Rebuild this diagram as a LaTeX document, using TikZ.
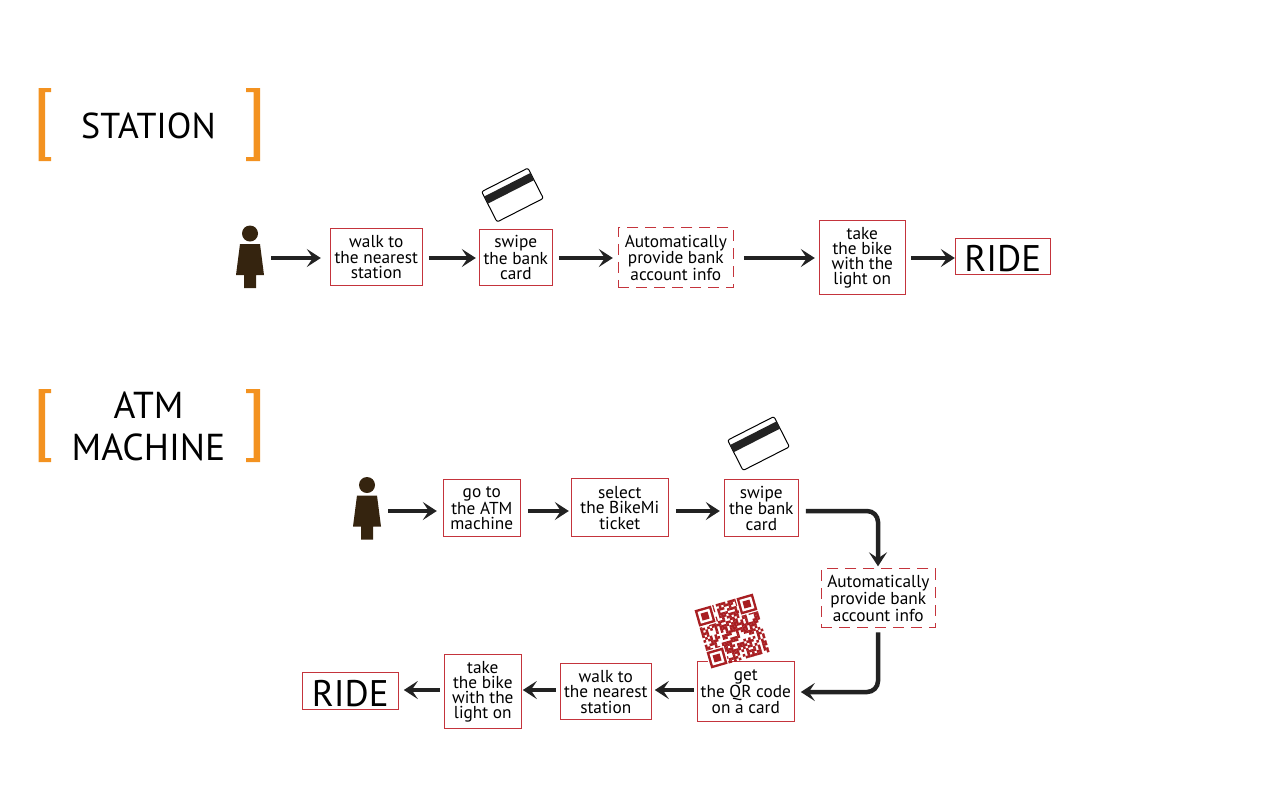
\documentclass[tikz,border=0pt]{standalone}
\usepackage{fontspec}
\setmainfont{PT Sans}
\usetikzlibrary{arrows.meta, positioning}
\definecolor{boxred}{HTML}{C4343C}
\definecolor{qrred}{HTML}{A81E22}
\definecolor{brorange}{HTML}{F39220}
\definecolor{darkline}{HTML}{222222}
\definecolor{figbrown}{HTML}{35240F}
\tikzset{
  stepbox/.style={draw=boxred, line width=1pt, inner sep=0pt, xshift=0.3pt, yshift=-0.3pt, align=center, font=\fontsize{17.3}{15.3}\selectfont},
  autobox/.style={stepbox, dashed, dash pattern=on 11pt off 7pt},
  ridebox/.style={draw=boxred, line width=1pt, inner sep=0pt, xshift=0.3pt, yshift=-0.3pt, text height=31pt, text depth=0pt, font=\fontsize{37}{37}\selectfont},
  titletext/.style={inner sep=0pt, align=center, font=\fontsize{36}{42}\selectfont},
  flow/.style={draw=darkline, line width=4.5pt, rounded corners=11pt, -{Stealth[length=14pt,width=18pt,inset=6pt]}},
  bracket/.style={fill=brorange},
  personfig/.pic={
    \fill[figbrown] (0,-24.5) circle (8);
    \fill[figbrown] (-10,-14) -- (10,-14) -- (14,17) -- (6,17) -- (6,30) -- (-6,30) -- (-6,17) -- (-14,17) -- cycle;
  },
  cardfig/.pic={
    \draw[line width=1pt, fill=white, rounded corners=2pt] (-26,-17) rectangle (26,17);
    \fill[darkline] (-26,-11.5) rectangle (26,-3.5);
  },
}
\begin{document}
\begin{tikzpicture}[x=1pt, y=-1pt]
  \useasboundingbox (0,0) rectangle (1281,801);
  % titles
  \foreach \yy in {0, 301} {
    \fill[bracket] (51,88+\yy) -- (38.5,88+\yy) -- (38.5,161+\yy) -- (51,161+\yy) -- (51,157+\yy) -- (45,157+\yy) -- (45,92+\yy) -- (51,92+\yy) -- cycle;
    \fill[bracket] (246,88+\yy) -- (260,88+\yy) -- (260,161+\yy) -- (246,161+\yy) -- (246,157+\yy) -- (253.5,157+\yy) -- (253.5,92+\yy) -- (246,92+\yy) -- cycle;
  }
  \node[titletext] (stationtitle) at (148.5,126) {STATION};
  \node[titletext, font=\fontsize{37.5}{42}\selectfont] (atmtitle) at (148.5,426) {ATM\\MACHINE};

  % station row
  \pic at (250,258) {personfig};
  \coordinate (persa) at (264,258);
  \node[stepbox, minimum width=92pt, minimum height=57pt] (walka) at (376,257) {walk to\\the nearest\\station};
  \node[stepbox, minimum width=73pt, minimum height=56pt] (swipea) at (515.5,257.5) {swipe\\the bank\\card};
  \node[autobox, minimum width=115pt, minimum height=60pt] (autoa) at (675.5,257.5) {Automatically\\provide bank\\account info};
  \node[stepbox, minimum width=86pt, minimum height=74pt] (takea) at (862,257.5) {take\\the bike\\with the\\light on};
  \node[ridebox, minimum width=95pt, minimum height=36pt] (ridea) at (1002.5,256) {RIDE};
  \pic[rotate=27] at (512.5,195) {cardfig};
  \draw[flow, shorten <=7pt, shorten >=9pt] (persa) -- (walka.west |- persa);
  \draw[flow, shorten <=6pt, shorten >=3pt] (walka.east |- persa) -- (swipea.west |- persa);
  \draw[flow, shorten <=6pt, shorten >=5pt] (swipea.east |- persa) -- (autoa.west |- persa);
  \draw[flow, shorten <=10pt, shorten >=4pt] (autoa.east |- persa) -- (takea.west |- persa);
  \draw[flow, shorten <=5pt, shorten >=0pt] (takea.east |- persa) -- (ridea.west |- persa);

  % atm rows
  \pic at (367,509.5) {personfig};
  \coordinate (persb) at (381,511);
  \node[stepbox, minimum width=77pt, minimum height=57pt] (gotob) at (481.5,508) {go to\\the ATM\\machine};
  \node[stepbox, minimum width=97pt, minimum height=58pt] (selectb) at (619.5,507.5) {select\\the BikeMi\\ticket};
  \node[stepbox, minimum width=74pt, minimum height=57pt] (swipeb) at (761,508) {swipe\\the bank\\card};
  \node[autobox, minimum width=114pt, minimum height=59pt] (autob) at (878,598) {Automatically\\provide bank\\account info};
  \node[stepbox, minimum width=97pt, minimum height=60pt] (getb) at (745.5,691.5) {get\\the QR code\\on a card};
  \node[stepbox, minimum width=91pt, minimum height=56pt] (walkb) at (605.5,691.5) {walk to\\the nearest\\station};
  \node[stepbox, minimum width=77pt, minimum height=74pt] (takeb) at (482.5,691.5) {take\\the bike\\with the\\light on};
  \node[ridebox, minimum width=96pt, minimum height=37pt] (rideb) at (350,690.5) {RIDE};
  \pic[rotate=27] at (758.5,443.5) {cardfig};
  \coordinate (turnb) at (878,511);
  \coordinate (turnc) at (878,692);
  \coordinate (rowc) at (878,690);
  \draw[flow, shorten <=7pt, shorten >=6pt] (persb) -- (gotob.west |- persb);
  \draw[flow, shorten <=7pt, shorten >=2pt] (gotob.east |- persb) -- (selectb.west |- persb);
  \draw[flow, shorten <=7pt, shorten >=4pt] (selectb.east |- persb) -- (swipeb.west |- persb);
  \draw[flow, shorten <=7pt, shorten >=2pt] (swipeb.east |- persb) -- (turnb) -- (turnb |- autob.north);
  \draw[flow, shorten <=4pt, shorten >=6pt] (turnc |- autob.south) -- (turnc) -- (getb.east |- turnc);
  \draw[flow, shorten <=3pt, shorten >=3pt] (getb.west |- rowc) -- (walkb.east |- rowc);
  \draw[flow, shorten <=4pt, shorten >=1pt] (walkb.west |- rowc) -- (takeb.east |- rowc);
  \draw[flow, shorten <=4pt, shorten >=5pt] (takeb.west |- rowc) -- (rideb.east |- rowc);

  % qr code
  \begin{scope}[shift={(732,631)}, rotate=16, x=2.42pt, y=-2.42pt]
    \pgfmathsetseed{11}
    \foreach \i in {0,...,24} {
      \foreach \j in {0,...,24} {
        \pgfmathrandominteger{\qrbit}{0}{99}
        \ifnum\qrbit<56
          \fill[qrred] (\i-12.5,\j-12.5) rectangle +(1.05,1.05);
        \fi
      }
    }
    \foreach \cx/\cy in {-12.5/-12.5, 5.5/-12.5, -12.5/5.5} {
      \fill[white] (\cx-0.5,\cy-0.5) rectangle +(8,8);
      \fill[qrred] (\cx,\cy) rectangle +(7,7);
      \fill[white] (\cx+1,\cy+1) rectangle +(5,5);
      \fill[qrred] (\cx+2,\cy+2) rectangle +(3,3);
    }
  \end{scope}
\end{tikzpicture}
\end{document}
